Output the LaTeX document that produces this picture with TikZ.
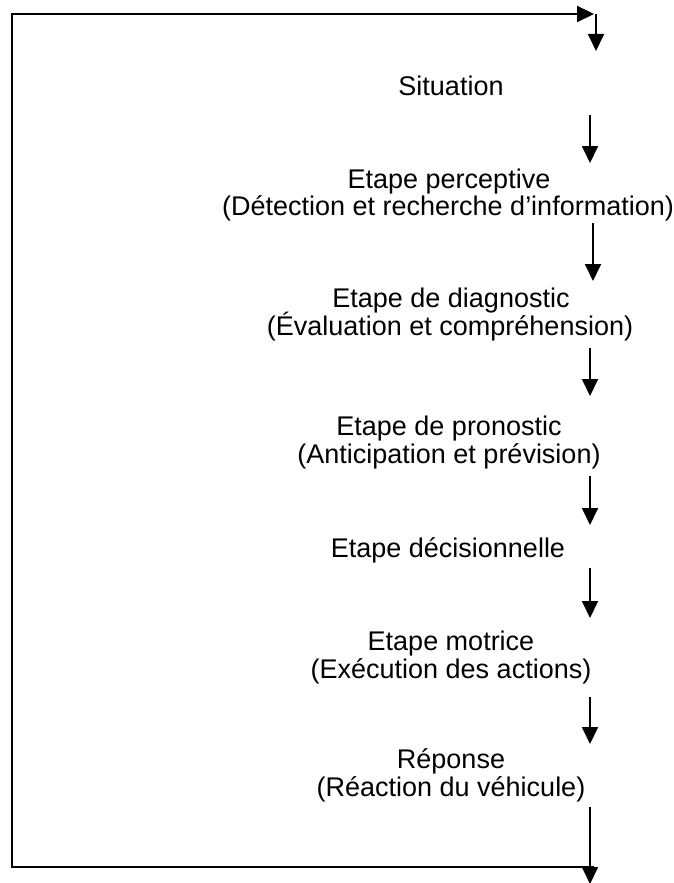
\documentclass[tikz,border=0pt]{standalone}
\usepackage{fontspec}
\setmainfont{Liberation Sans}
\usetikzlibrary{arrows.meta}
\begin{document}
\begin{tikzpicture}[x=1pt,y=-1pt,
  txt/.style={anchor=base,inner sep=0pt,font=\fontsize{27}{28}\selectfont},
  flow/.style={line width=1.8pt,-{Triangle[width=16pt,length=17pt]}},
  frame/.style={line width=2.2pt,line join=miter}]
\useasboundingbox (0,0) rectangle (674,883);
\fill[white] (0,0) rectangle (674,883);
% texts
\node[txt] (sit) at (451,95) {Situation};
\node[txt] (p1) at (449,188) {Etape perceptive};
\node[txt] (p2) at (448,215) {(Détection et recherche d’information)};
\node[txt] (d1) at (451,307) {Etape de diagnostic};
\node[txt] (d2) at (450,335) {(Évaluation et compréhension)};
\node[txt] (n1) at (449,435) {Etape de pronostic};
\node[txt] (n2) at (449,463) {(Anticipation et prévision)};
\node[txt] (dec) at (448,557) {Etape décisionnelle};
\node[txt] (m1) at (451,650) {Etape motrice};
\node[txt] (m2) at (451,678) {(Exécution des actions)};
\node[txt] (r1) at (451,768) {Réponse};
\node[txt] (r2) at (451,796) {(Réaction du véhicule)};
% arrow coordinates
\coordinate (t0s) at (596,14);  \coordinate (t0e) at (596,51);
\coordinate (a1s) at (590,115); \coordinate (a1e) at (590,163);
\coordinate (a2s) at (593,223); \coordinate (a2e) at (593,281);
\coordinate (a3s) at (590,348); \coordinate (a3e) at (590,396);
\coordinate (a4s) at (590,476); \coordinate (a4e) at (590,525);
\coordinate (a5s) at (590,568); \coordinate (a5e) at (590,618);
\coordinate (a6s) at (590,697); \coordinate (a6e) at (590,744);
\coordinate (a7s) at (590,807); \coordinate (a7e) at (590,884);
% frame coordinates
\coordinate (fbr) at (594,867);
\coordinate (fbl) at (12,867);
\coordinate (ftl) at (12,14);
\coordinate (ftr) at (594,14);
% feedback frame
\draw[frame,-{Triangle[width=16pt,length=17pt]}] (fbr) -- (fbl) -- (ftl) -- (ftr);
% arrows
\draw[flow] (t0s) -- (t0e);
\draw[flow] (a1s) -- (a1e);
\draw[flow] (a2s) -- (a2e);
\draw[flow] (a3s) -- (a3e);
\draw[flow] (a4s) -- (a4e);
\draw[flow] (a5s) -- (a5e);
\draw[flow] (a6s) -- (a6e);
\draw[flow] (a7s) -- (a7e);
\end{tikzpicture}
\end{document}
